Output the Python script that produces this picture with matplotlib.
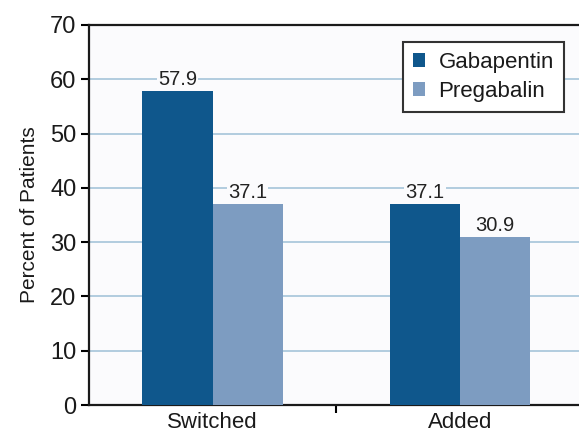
import numpy as np
import matplotlib
matplotlib.use('Agg')
from matplotlib import pyplot as plt

plt.rcParams['font.family'] = ['Liberation Sans', 'DejaVu Sans']

categories = ['Switched', 'Added']
series_names = ['Gabapentin', 'Pregabalin']
gabapentin = [57.9, 37.1]
pregabalin = [37.1, 30.9]
colors = ['#0F578C', '#7D9CC1']

fig = plt.figure(figsize=(5.79, 4.36), dpi=100)
fig.patch.set_facecolor('white')
ax = fig.add_axes([0.1537, 0.0711, 0.854, 0.8716])
ax.set_facecolor('#FBFBFD')

x = np.arange(len(categories))
w = 0.284
b1 = ax.bar(x - w / 2, gabapentin, w, color=colors[0], label=series_names[0], zorder=3)
b2 = ax.bar(x + w / 2, pregabalin, w, color=colors[1], label=series_names[1], zorder=3)

for bars in (b1, b2):
    for bar in bars:
        h = bar.get_height()
        ax.annotate(f'{h:.1f}', (bar.get_x() + bar.get_width() / 2, h),
                    xytext=(0, 1.5), textcoords='offset points',
                    ha='center', va='bottom', fontsize=14.5, color='#222222',
                    bbox=dict(facecolor='#FBFBFD', edgecolor='none', pad=0.8),
                    zorder=4)

ax.set_ylim(0, 70)
ax.set_xlim(-0.5, 1.5)
ax.set_yticks(range(0, 71, 10))
ax.tick_params(axis='y', labelsize=17, length=6, width=1.5, direction='out', pad=3,
               labelcolor='#1a1a1a')
ax.yaxis.grid(True, color='#A5C4D9', linewidth=1.2, zorder=0)
ax.set_axisbelow(True)

ax.set_xticks(x)
ax.set_xticklabels(categories, fontsize=16)
ax.tick_params(axis='x', length=0, pad=5, labelcolor='#1a1a1a')
ax.set_xticks([0.5], minor=True)
ax.tick_params(axis='x', which='minor', length=6, width=1.5, direction='out')

ax.set_ylabel('Percent of Patients', fontsize=15, color='#1a1a1a')
ax.yaxis.set_label_coords(-0.102, 0.5)

for s in ['left', 'bottom', 'top']:
    ax.spines[s].set_linewidth(1.6)
    ax.spines[s].set_color('#1a1a1a')
ax.spines['right'].set_visible(False)

leg = ax.legend(loc='upper right', bbox_to_anchor=(564 / 579, 1 - 42 / 436),
                bbox_transform=fig.transFigure, fontsize=16, fancybox=False,
                framealpha=1, edgecolor='#333333', handlelength=0.55,
                handleheight=0.55, handletextpad=0.6, borderpad=0.45, labelspacing=0.35,
                borderaxespad=0)
leg.get_frame().set_linewidth(1.5)
for t in leg.get_texts():
    t.set_color('#1a1a1a')

fig.savefig('out.png', dpi=100)
